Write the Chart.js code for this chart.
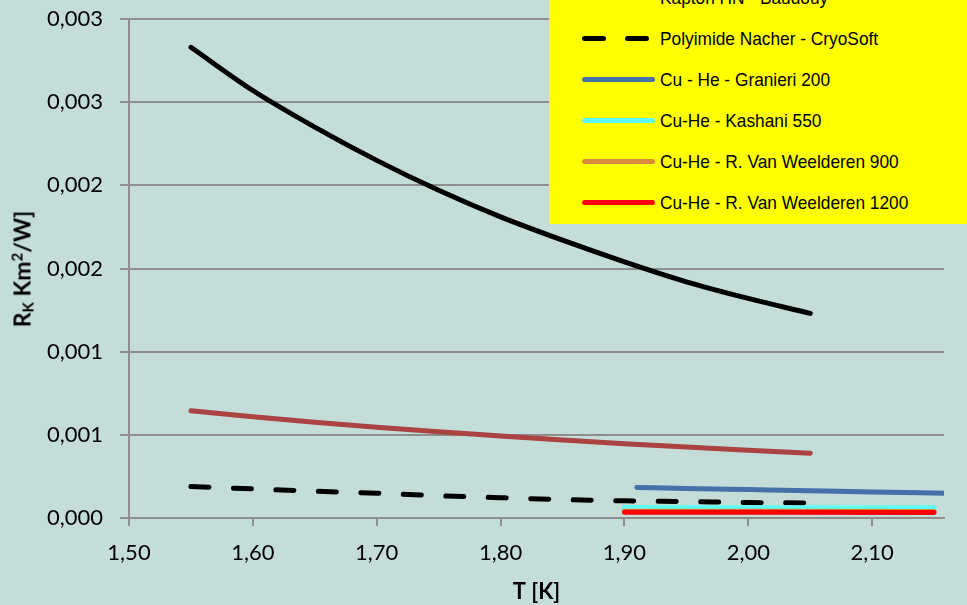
<!DOCTYPE html>
<html>
<head>
<meta charset="utf-8">
<script src="https://cdn.jsdelivr.net/npm/chart.js@4/dist/chart.umd.min.js"></script>
<style>
html,body{margin:0;padding:0;background:#c4ddd9;overflow:hidden;}
#wrap{position:relative;width:967px;height:605px;overflow:hidden;background:#c4ddd9;}
#c{position:absolute;left:0;top:0;}
#ytitle{position:absolute;left:22px;top:269px;transform:translate(-50%,-50%) rotate(-90deg);
  font:bold 23px Lato,sans-serif;color:#000;white-space:nowrap;line-height:1;}
#ytitle sub{font-size:15px;vertical-align:-3px;line-height:0;}
#ytitle sup{font-size:15px;vertical-align:8px;line-height:0;}
#legend{position:absolute;left:549px;top:-25px;width:430px;height:249px;background:#ffff00;}
.lrow{position:absolute;left:0;width:430px;height:41px;}
.lrow svg{position:absolute;left:30px;top:0;}
.lrow span{position:absolute;left:111px;top:50%;transform:translateY(-50%) scaleX(0.91);transform-origin:left center;
  font:19px "Liberation Sans",Arial,sans-serif;color:#000;white-space:nowrap;}
</style>
</head>
<body>
<div id="wrap">
  <canvas id="c" width="967" height="605"></canvas>
  <div id="ytitle">R<sub>K</sub> Km<sup>2</sup>/W]</div>
  <div id="legend"></div>
</div>
<script>
// ---- data ----
const tMain = [1.55, 1.60, 1.65, 1.70, 1.75, 1.80, 1.85, 1.90, 1.95, 2.00, 2.05];
const kaptonBaudouy = [0.00283, 0.00257, 0.00235, 0.00215, 0.00197, 0.00181, 0.00167, 0.00154, 0.00142, 0.00132, 0.00123];
const upperRedCurve = [0.000645, 0.000609, 0.000576, 0.000546, 0.000518, 0.000493, 0.000469, 0.000447, 0.000427, 0.000408, 0.000390];
const polyimideNacher = [0.000189, 0.000175, 0.000161, 0.000149, 0.000134, 0.000122, 0.000111, 0.000103, 0.0000984, 0.0000930, 0.0000900];
const tGranieri = [1.91, 1.95, 2.00, 2.05, 2.10, 2.158];
const granieri200 = [0.000183, 0.000178, 0.000171, 0.000164, 0.000156, 0.000149];
const tCuHe = [1.90, 2.15];
const kashani550 = [0.000063, 0.000061];
const weelderen900 = [0.000041, 0.000039];
const weelderen1200 = [0.000035, 0.000033];

const seriesLabels = ['Kapton HN - Baudouy', 'Polyimide Nacher - CryoSoft', 'Cu - He - Granieri 200',
  'Cu-He - Kashani 550', 'Cu-He - R. Van Weelderen 900', 'Cu-He - R. Van Weelderen 1200'];

const xTicks = [1.50, 1.60, 1.70, 1.80, 1.90, 2.00, 2.10];
const xTickLabels = ['1,50', '1,60', '1,70', '1,80', '1,90', '2,00', '2,10'];
const yTicks = [0, 0.0005, 0.001, 0.0015, 0.002, 0.0025, 0.003];
const yTickLabels = ['0,000', '0,001', '0,001', '0,002', '0,002', '0,003', '0,003'];
const xTitle = 'T [K]';

// ---- chart ----
const pts = (xs, ys) => xs.map((x, i) => ({x: x, y: ys[i]}));
function ds(label, xs, ys, color, dash, inLegend, order) {
  return {
    label: label, data: pts(xs, ys), showLine: true, borderColor: color, backgroundColor: color,
    borderWidth: 5, pointRadius: 0, pointHoverRadius: 0, cubicInterpolationMode: 'monotone', borderCapStyle: 'round',
    borderJoinStyle: 'round', borderDash: dash || [], inLegend: inLegend, order: order, fill: false
  };
}
const datasets = [
  ds('', tMain, upperRedCurve, '#ab4340', null, false, 7),
  ds(seriesLabels[0], tMain, kaptonBaudouy, '#000000', null, true, 6),
  ds(seriesLabels[1], tMain, polyimideNacher, '#000000', [18, 24.5], true, 5),
  ds(seriesLabels[2], tGranieri, granieri200, '#4571a9', null, true, 4),
  ds(seriesLabels[3], tCuHe, kashani550, '#5ffcfc', null, true, 3),
  ds(seriesLabels[4], tCuHe, weelderen900, '#dc8a38', null, true, 2),
  ds(seriesLabels[5], tCuHe, weelderen1200, '#ff0000', null, true, 1)
];

const gridGray = '#8e8e8e';
const tickFont = {family: 'Lato', size: 22};

const chart = new Chart(document.getElementById('c'), {
  type: 'scatter',
  data: {datasets: datasets},
  options: {
    responsive: false, animation: false, devicePixelRatio: 1,
    layout: {padding: {top: 19, right: 23, left: 0, bottom: 0}},
    plugins: {legend: {display: false}, tooltip: {enabled: false}, title: {display: false}},
    scales: {
      x: {
        type: 'linear', min: 1.5, max: 2.158,
        afterBuildTicks: s => { s.ticks = xTicks.map(v => ({value: v})); },
        afterFit: s => { s.height = 87; s.paddingLeft = 0; s.paddingRight = 0; },
        ticks: {font: tickFont, color: '#000', padding: 14, maxRotation: 0, autoSkip: false,
          callback: (v, i) => xTickLabels[i]},
        grid: {drawOnChartArea: false, drawTicks: true, tickLength: 8, color: gridGray, lineWidth: 2},
        border: {display: true, color: gridGray, width: 2},
        title: {display: true, text: xTitle, color: '#000', font: {family: 'Lato', size: 22, weight: 'bold'},
          padding: {top: 0, bottom: 0}}
      },
      y: {
        type: 'linear', min: 0, max: 0.003,
        afterBuildTicks: s => { s.ticks = yTicks.map(v => ({value: v})); },
        afterFit: s => { s.width = 129; s.paddingTop = 0; s.paddingBottom = 0; },
        ticks: {font: tickFont, color: '#000', padding: 17, autoSkip: false,
          callback: (v, i) => yTickLabels[i]},
        grid: {drawOnChartArea: true, drawTicks: true, tickLength: 9, color: gridGray, lineWidth: 2},
        border: {display: true, color: gridGray, width: 2}
      }
    }
  }
});

// ---- legend built from the chart's datasets ----
const legend = document.getElementById('legend');
const svgNS = 'http://www.w3.org/2000/svg';
chart.data.datasets.filter(d => d.inLegend).forEach((d, i) => {
  const row = document.createElement('div');
  row.className = 'lrow';
  row.style.top = (2 + 41 * i) + 'px';
  const svg = document.createElementNS(svgNS, 'svg');
  svg.setAttribute('width', '80'); svg.setAttribute('height', '41');
  const ln = document.createElementNS(svgNS, 'line');
  ln.setAttribute('x1', '5.5'); ln.setAttribute('x2', '73.5');
  ln.setAttribute('y1', '20.5'); ln.setAttribute('y2', '20.5');
  ln.setAttribute('stroke', d.borderColor); ln.setAttribute('stroke-width', '5');
  ln.setAttribute('stroke-linecap', 'round');
  if (d.borderDash.length) ln.setAttribute('stroke-dasharray', '19 24');
  svg.appendChild(ln);
  row.appendChild(svg);
  const sp = document.createElement('span');
  sp.textContent = d.label;
  row.appendChild(sp);
  legend.appendChild(row);
});
</script>
</body>
</html>
